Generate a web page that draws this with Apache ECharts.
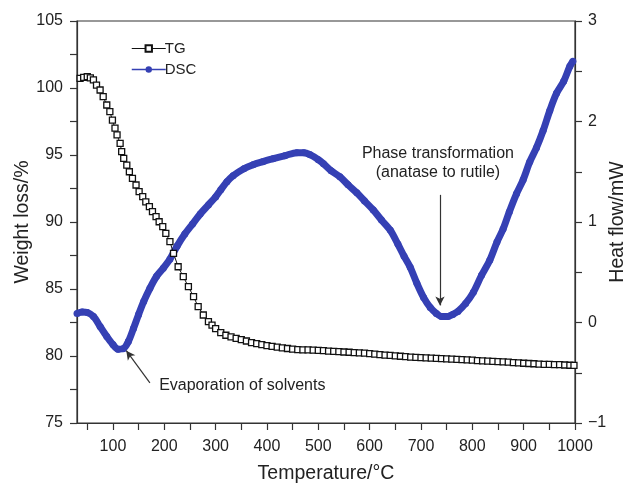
<!DOCTYPE html>
<html>
<head>
<meta charset="utf-8">
<script src="https://cdn.jsdelivr.net/npm/echarts@6/dist/echarts.min.js"></script>
<style>
html, body { margin: 0; padding: 0; background: #fff; }
#main { width: 625px; height: 484px; }
</style>
</head>
<body>
<div id="main"></div>
<script>
// TG curve (weight loss %, left axis)
var tgTemp = [36, 43, 50, 56, 62, 68, 75, 81, 88, 94, 99, 104, 108, 114, 117, 121, 127, 132, 138, 145,
	151, 158, 164, 171, 177, 184, 190, 197, 203, 211, 218, 227, 237, 247, 257, 266, 276, 286, 293,
	300, 310, 320, 330, 340, 350, 360, 370, 380, 390, 400, 410, 420, 430, 440, 450, 460, 470, 480, 490,
	500, 510, 520, 530, 540, 550, 560, 570, 580, 590, 600, 610, 620, 630, 640, 650, 660, 670, 680, 690,
	700, 710, 720, 730, 740, 750, 760, 770, 780, 790, 800, 810, 820, 830, 840, 850, 860, 870, 880, 890,
	900, 910, 920, 930, 940, 950, 960, 970, 980, 990, 998];
var tgWeight = [100.72, 100.8, 100.84, 100.75, 100.6, 100.22, 99.85, 99.35, 98.73, 98.23, 97.6, 97.0, 96.5, 95.87, 95.25, 94.75, 94.25, 93.75, 93.26, 92.76,
	92.26, 91.9, 91.5, 91.14, 90.77, 90.4, 90.02, 89.65, 89.15, 88.53, 87.66, 86.66, 85.92, 85.17, 84.43, 83.68, 83.06, 82.56, 82.3,
	82.05, 81.75, 81.55, 81.42, 81.32, 81.22, 81.12, 81.0, 80.92, 80.85, 80.78, 80.72, 80.66, 80.6, 80.56, 80.52, 80.48, 80.46, 80.45, 80.44,
	80.42, 80.4, 80.37, 80.35, 80.32, 80.3, 80.28, 80.25, 80.23, 80.21, 80.18, 80.14, 80.1, 80.07, 80.04, 80.01, 79.98, 79.95, 79.92, 79.9,
	79.88, 79.86, 79.84, 79.82, 79.8, 79.79, 79.77, 79.75, 79.73, 79.71, 79.69, 79.66, 79.64, 79.62, 79.6, 79.58, 79.56, 79.54, 79.51, 79.48,
	79.46, 79.44, 79.42, 79.4, 79.38, 79.37, 79.36, 79.35, 79.33, 79.31, 79.3];

// DSC curve (heat flow mW, right axis)
var dscTemp = [30, 40, 50, 62, 75, 88, 100, 110, 120, 130, 140, 150, 160, 172, 185, 198, 211, 225, 240, 255,
	270, 286, 300, 310, 322, 334, 355, 373, 392, 412, 435, 458, 472, 484, 500, 510, 525, 542, 558, 575,
	590, 607, 623, 640, 655, 667, 679, 692, 705, 718, 730, 740, 752, 762, 772, 787, 802, 818, 834, 848,
	860, 872, 886, 899, 912, 925, 938, 951, 964, 978, 990, 996];
var dscHeat = [0.09, 0.105, 0.1, 0.06, -0.04, -0.14, -0.22, -0.265, -0.26, -0.19, -0.06, 0.08, 0.21, 0.34, 0.46, 0.54, 0.63, 0.76, 0.88, 0.98,
	1.08, 1.17, 1.25, 1.32, 1.4, 1.46, 1.53, 1.57, 1.6, 1.63, 1.66, 1.69, 1.69, 1.67, 1.62, 1.58, 1.51, 1.45, 1.37, 1.29,
	1.21, 1.12, 1.02, 0.92, 0.78, 0.66, 0.55, 0.39, 0.25, 0.15, 0.09, 0.06, 0.06, 0.08, 0.11, 0.19, 0.3, 0.47, 0.62, 0.8,
	0.93, 1.1, 1.28, 1.42, 1.6, 1.74, 1.91, 2.11, 2.28, 2.4, 2.55, 2.6];

var xTicks = [50, 100, 150, 200, 250, 300, 350, 400, 450, 500, 550, 600, 650, 700, 750, 800, 850, 900, 950, 1000];
var xLabels = [100, 200, 300, 400, 500, 600, 700, 800, 900, 1000];

var axisColor = '#333';
var textColor = '#222';
var fontName = '"Liberation Sans", Arial, sans-serif';
var blue = '#3540b4';

function pairs(xs, ys){
	var out = [];
	for (var i = 0; i < xs.length; i++) {
		out.push([xs[i], ys[i]]);
	}
	return out;
}

var myChart = echarts.init(document.getElementById('main'));
var option = {
	animation: false,
	textStyle: { fontFamily: fontName },
	grid: {
		left: 77,
		right: 50,
		top: 21,
		bottom: 61,
		outerBoundsMode: 'none',
		containLabel: false,
		show: true,
		borderColor: axisColor,
		borderWidth: 1.2
	},
	legend: {
		orient: 'vertical',
		left: 126,
		top: 36,
		itemWidth: 34,
		itemHeight: 8,
		itemGap: 6,
		textStyle: { fontSize: 15, color: textColor, fontFamily: fontName, padding: [0, 0, 0, -6] },
		data: [
			{ name: 'TG', lineStyle: { width: 1.2 } },
			{ name: 'DSC', lineStyle: { width: 1.5 } }
		]
	},
	xAxis: {
		type: 'value',
		min: 30,
		max: 1000,
		name: 'Temperature/°C',
		nameLocation: 'middle',
		nameGap: 41,
		nameMoveOverlap: false,
		nameTextStyle: { fontSize: 19.5, color: textColor },
		axisLine: { onZero: false, lineStyle: { color: axisColor, width: 1.2 } },
		axisTick: { inside: false, length: 7, customValues: xTicks, lineStyle: { color: axisColor, width: 1.2 } },
		axisLabel: {
			customValues: xLabels, fontSize: 16, color: textColor, margin: 16,
			formatter: function (v) { return String(v); }
		},
		splitLine: { show: false }
	},
	yAxis: [{
		type: 'value',
		min: 75,
		max: 105,
		interval: 2.5,
		name: 'Weight loss/%',
		nameLocation: 'middle',
		nameRotate: 90,
		nameGap: 44,
		nameMoveOverlap: false,
		nameTextStyle: { fontSize: 19.5, color: textColor },
		axisLine: { show: true, onZero: false, lineStyle: { color: axisColor, width: 1.2 } },
		axisTick: { show: true, inside: false, length: 7, lineStyle: { color: axisColor, width: 1.2 } },
		axisLabel: {
			fontSize: 16, color: textColor, margin: 14,
			formatter: function (v) { return v % 5 === 0 ? String(v) : ''; }
		},
		splitLine: { show: false }
	}, {
		type: 'value',
		position: 'right',
		min: -1,
		max: 3,
		interval: 0.5,
		name: 'Heat flow/mW',
		nameLocation: 'middle',
		nameRotate: 90,
		nameGap: 33,
		nameMoveOverlap: false,
		nameTextStyle: { fontSize: 19.5, color: textColor },
		axisLine: { show: true, onZero: false, lineStyle: { color: axisColor, width: 1.2 } },
		axisTick: { show: true, inside: false, length: 7, lineStyle: { color: axisColor, width: 1.2 } },
		axisLabel: {
			fontSize: 16, color: textColor, margin: 13,
			formatter: function (v) {
				if (v % 1 !== 0) return '';
				return v < 0 ? '\u2212' + Math.abs(v) : String(v);
			}
		},
		splitLine: { show: false }
	}],
	series: [{
		name: 'DSC',
		type: 'line',
		yAxisIndex: 1,
		data: pairs(dscTemp, dscHeat),
		smooth: 0.3,
		symbol: 'circle',
		symbolSize: 7,
		showAllSymbol: true,
		itemStyle: { color: blue },
		lineStyle: { color: blue, width: 7 },
		z: 2,
		markLine: {
			silent: true,
			symbol: ['none', 'arrow'],
			symbolSize: [7, 9],
			lineStyle: { color: '#333', width: 1.2, type: 'solid' },
			label: { show: false },
			data: [
				[{ coord: [737, 1.27] }, { coord: [737, 0.17] }],
				[{ coord: [172, -0.6] }, { coord: [126, -0.28] }]
			]
		}
	}, {
		name: 'TG',
		type: 'line',
		yAxisIndex: 0,
		data: pairs(tgTemp, tgWeight),
		symbol: 'rect',
		symbolSize: 6,
		showAllSymbol: true,
		itemStyle: { color: '#fff', borderColor: '#111', borderWidth: 1.3 },
		lineStyle: { color: '#111', width: 1 },
		z: 3
	}]
};
myChart.setOption(option);

// annotation texts, placed through the axes
var p1 = myChart.convertToPixel({ xAxisIndex: 0, yAxisIndex: 1 }, [733, 1.59]);
var p2 = myChart.convertToPixel({ xAxisIndex: 0, yAxisIndex: 1 }, [190, -0.63]);
myChart.setOption({
	graphic: [{
		type: 'text',
		x: p1[0],
		y: p1[1],
		style: {
			text: 'Phase transformation\n(anatase to rutile)',
			font: '16px ' + fontName,
			fill: textColor,
			align: 'center',
			verticalAlign: 'middle',
			lineHeight: 19
		}
	}, {
		type: 'text',
		x: p2[0],
		y: p2[1],
		style: {
			text: 'Evaporation of solvents',
			font: '16px ' + fontName,
			fill: textColor,
			align: 'left',
			verticalAlign: 'middle'
		}
	}]
});
</script>
</body>
</html>
